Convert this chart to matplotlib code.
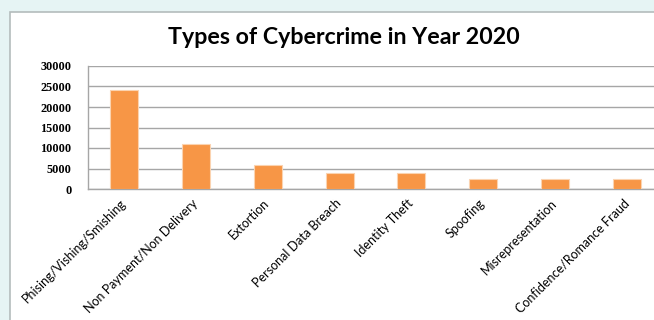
import matplotlib
matplotlib.use("Agg")
import matplotlib.pyplot as plt
from matplotlib.patches import Rectangle

categories = ["Phising/Vishing/Smishing", "Non Payment/Non Delivery", "Extortion",
              "Personal Data Breach", "Identity Theft", "Spoofing",
              "Misrepresentation", "Confidence/Romance Fraud"]
values = [24100, 10900, 5850, 3900, 3900, 2400, 2400, 2400]
yticks = [0, 5000, 10000, 15000, 20000, 25000, 30000]
title = "Types of Cybercrime in Year 2020"

W, H = 654, 320
fig = plt.figure(figsize=(W/100, H/100), dpi=100)
fig.patch.set_facecolor("#E6F4F4")

# chart frame
fig.patches.append(Rectangle((10/W, -0.1), 1.2, (H - 12)/H + 0.1,
                             transform=fig.transFigure, facecolor="white",
                             edgecolor="#B4BCBC", linewidth=1.2, zorder=-5))

ax_left, ax_right = 88/W, 663/W
ax_bottom, ax_top = (H - 189)/H, (H - 66)/H
ax = fig.add_axes([ax_left, ax_bottom, ax_right - ax_left, ax_top - ax_bottom])
ax.set_zorder(2)
ax.patch.set_alpha(0)

x = range(len(categories))
ax.bar(x, values, width=0.39, color="#F79646", edgecolor="#FBD3B0", linewidth=0.8, zorder=3)
ax.set_xlim(-0.5, len(categories) - 0.5)
ax.set_ylim(0, 30000)
ax.set_yticks(yticks)
ax.set_yticklabels([str(v) for v in yticks], fontfamily="Liberation Serif",
                   fontweight="bold", fontsize=8.8)
ax.yaxis.grid(True, color="#A6A6A6", linewidth=1.0, zorder=0)
ax.set_axisbelow(True)
ax.tick_params(axis="y", length=0, pad=12)
ax.tick_params(axis="x", length=0, pad=9)
ax.set_xticks(list(x))
ax.set_xticklabels(categories, rotation=45, ha="right", va="center",
                   rotation_mode="anchor", fontfamily="Lato", fontsize=9.0)
for s in ["top", "right"]:
    ax.spines[s].set_visible(False)
for s in ["left", "bottom"]:
    ax.spines[s].set_color("#A6A6A6")
    ax.spines[s].set_linewidth(1.0)

fig.text(344/W, 1 - 38/H, title, ha="center", va="center",
         fontfamily="Lato", fontweight="bold", fontsize=16.7, zorder=5)

fig.savefig("out.png", dpi=100, facecolor=fig.get_facecolor())
